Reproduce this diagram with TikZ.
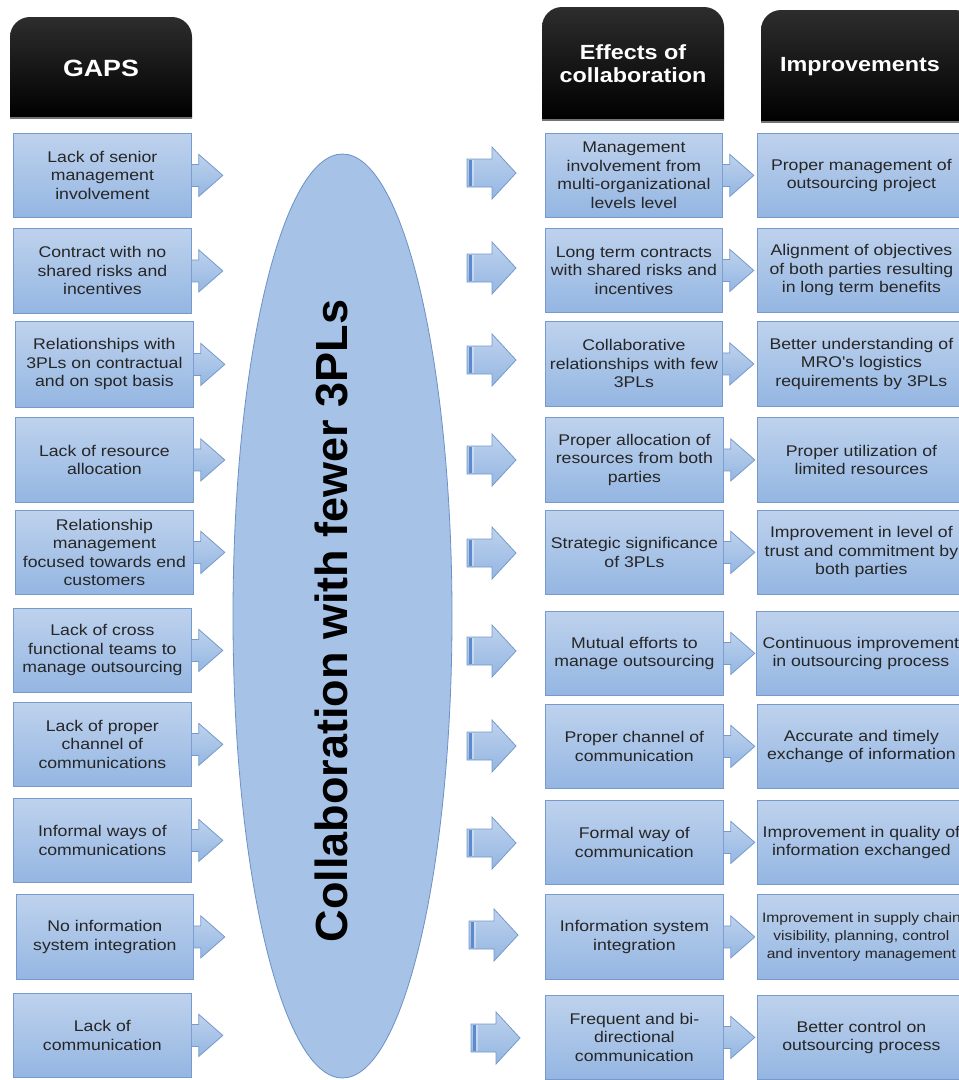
\documentclass[tikz,border=0pt]{standalone}
\usepackage{fontspec}
\setmainfont{Liberation Sans}
\newfontfamily\bx[FakeStretch=1.14]{Liberation Sans}
\usetikzlibrary{shapes.geometric,calc}
\definecolor{bxtop}{RGB}{190,210,237}
\definecolor{bxbot}{RGB}{148,182,226}
\definecolor{bxline}{RGB}{118,154,205}
\definecolor{txt}{RGB}{38,38,38}
\definecolor{ellfill}{RGB}{166,194,231}
\definecolor{ellline}{RGB}{108,145,198}
\definecolor{band}{RGB}{92,138,204}
\definecolor{hdtop}{RGB}{45,45,45}
\tikzset{
  card/.style={draw=bxline, line width=0.8pt, top color=bxtop, bottom color=bxbot,
    inner sep=0pt, align=center, text=txt, anchor=north west,
    font=\bx\fontsize{15.5}{18.5}\selectfont},
  chev/.style={draw=bxline, line width=0.8pt, top color=bxtop, bottom color=bxbot},
  headbox/.style={top color=hdtop, bottom color=black},
  headline/.style={draw=black!55, line width=1.5pt},
  headtext/.style={text=white, align=center, font=\bx\bfseries\fontsize{20.5}{23}\selectfont},
  elltext/.style={text=black, font=\bfseries\fontsize{45}{50}\selectfont},
}
\newcommand\cardat[6]{\node[card, minimum width=#4, minimum height=#5] (#1) at (#2,#3) {#6};}
\newcommand\chevfrom[1]{\path[chev] ($(#1.east)+(0,-11)$) -- ++(7,0) -- ++(0,-10) -- ++(24,21) -- ++(-24,21) -- ++(0,-10) -- ++(-7,0);}
\newcommand\blockarrow[3]{%
  \coordinate (#1) at (#2,#3);
  \path[chev] ($(#1)+(0,-14)$) -- ++(25,0) -- ++(0,-12) -- ++(24,26) -- ++(-24,26) -- ++(0,-12) -- ++(-25,0) -- cycle;
  \fill[band] ($(#1)+(1.5,-13.4)$) rectangle ($(#1)+(5,13.4)$);
  \fill[white,opacity=0.35] ($(#1)+(5,-13.4)$) rectangle ($(#1)+(7,13.4)$);
}
\begin{document}
\begin{tikzpicture}[x=1pt,y=-1pt]
\useasboundingbox (0,0) rectangle (959,1080);
\clip (0,0) rectangle (959,1080);
\fill[white] (0,0) rectangle (959,1080);

% headers
\path[headbox] (10,118) [rounded corners=20] -- (10,17) -- (192,17) [sharp corners] -- (192,118) -- cycle;
\draw[headline] (10,118) -- (192,118);
\node[headtext, font=\bx\bfseries\fontsize{23.5}{26}\selectfont] (hg) at (101,68) {GAPS};
\path[headbox] (542,120) [rounded corners=20] -- (542,7) -- (724,7) [sharp corners] -- (724,120) -- cycle;
\draw[headline] (542,120) -- (724,120);
\node[headtext] (he) at (633,64) {Effects of\\collaboration};
\path[headbox] (761,122) [rounded corners=20] -- (761,10) -- (975,10) [sharp corners] -- (975,122) -- cycle;
\draw[headline] (761,122) -- (975,122);
\node[headtext] (hi) at (860,67) {Improvements};

% ellipse
\node[ellipse, draw=ellline, line width=0.8pt, fill=ellfill, minimum width=219, minimum height=924, inner sep=0pt] (ell) at (342.5,616) {};
\node[elltext, rotate=90] (ellt) at (331,621) {Collaboration with fewer 3PLs};

% left column
\cardat{g1}{13}{133}{178}{84}{Lack of senior\\management\\involvement}
\cardat{g2}{13}{228}{178}{85}{Contract with no\\shared risks and\\incentives}
\cardat{g3}{15}{321}{178}{86}{Relationships with\\3PLs on contractual\\and on spot basis}
\cardat{g4}{15}{417}{178}{85}{Lack of resource\\allocation}
\cardat{g5}{15}{510}{178}{84}{Relationship\\management\\focused towards end\\customers}
\cardat{g6}{13}{608}{178}{84}{Lack of cross\\functional teams to\\manage outsourcing}
\cardat{g7}{13}{702}{178}{84}{Lack of proper\\channel of\\communications}
\cardat{g8}{13}{798}{178}{84}{Informal ways of\\communications}
\cardat{g9}{16}{894}{177}{85}{No information\\system integration}
\cardat{g10}{13}{993}{178}{84}{Lack of\\communication}
\foreach \n in {1,...,10} {\chevfrom{g\n}}

% middle column
\cardat{e1}{545}{133}{177}{84}{Management\\involvement from\\multi-organizational\\levels level}
\cardat{e2}{545}{228}{177}{84}{Long term contracts\\with shared risks and\\incentives}
\cardat{e3}{545}{321}{177}{85}{Collaborative\\relationships with few\\3PLs}
\cardat{e4}{545}{417}{178}{85}{Proper allocation of\\resources from both\\parties}
\cardat{e5}{545}{510}{178}{84}{Strategic significance\\of 3PLs}
\cardat{e6}{545}{611}{178}{84}{Mutual efforts to\\manage outsourcing}
\cardat{e7}{545}{704}{178}{84}{Proper channel of\\communication}
\cardat{e8}{545}{800}{178}{84}{Formal way of\\communication}
\cardat{e9}{545}{894}{178}{85}{Information system\\integration}
\cardat{e10}{545}{995}{178}{84}{Frequent and bi-\\directional\\communication}
\foreach \n in {1,...,10} {\chevfrom{e\n}}

% right column
\cardat{i1}{757}{133}{208}{84}{Proper management of\\outsourcing project}
\cardat{i2}{757}{228}{208}{84}{Alignment of objectives\\of both parties resulting\\in long term benefits}
\cardat{i3}{757}{321}{208}{85}{Better understanding of\\MRO's logistics\\requirements by 3PLs}
\cardat{i4}{757}{417}{208}{85}{Proper utilization of\\limited resources}
\cardat{i5}{757}{510}{208}{84}{Improvement in level of\\trust and commitment by\\both parties}
\cardat{i6}{756}{611}{209}{84}{Continuous improvement\\in outsourcing process}
\cardat{i7}{757}{704}{208}{84}{Accurate and timely\\exchange of information}
\cardat{i8}{757}{800}{208}{84}{Improvement in quality of\\information exchanged}
\node[card, minimum width=208, minimum height=85, font=\bx\fontsize{13.7}{18}\selectfont] (i9) at (757,894) {Improvement in supply chain\\visibility, planning, control\\and inventory management};
\cardat{i10}{757}{995}{208}{84}{Better control on\\outsourcing process}

% block arrows between ellipse and effects
\blockarrow{m1}{467}{173}
\blockarrow{m2}{467}{268}
\blockarrow{m3}{467}{360}
\blockarrow{m4}{467}{460}
\blockarrow{m5}{467}{553}
\blockarrow{m6}{467}{651}
\blockarrow{m7}{467}{746}
\blockarrow{m8}{467}{843}
\blockarrow{m9}{469}{935}
\blockarrow{m10}{471}{1038}
\end{tikzpicture}
\end{document}
